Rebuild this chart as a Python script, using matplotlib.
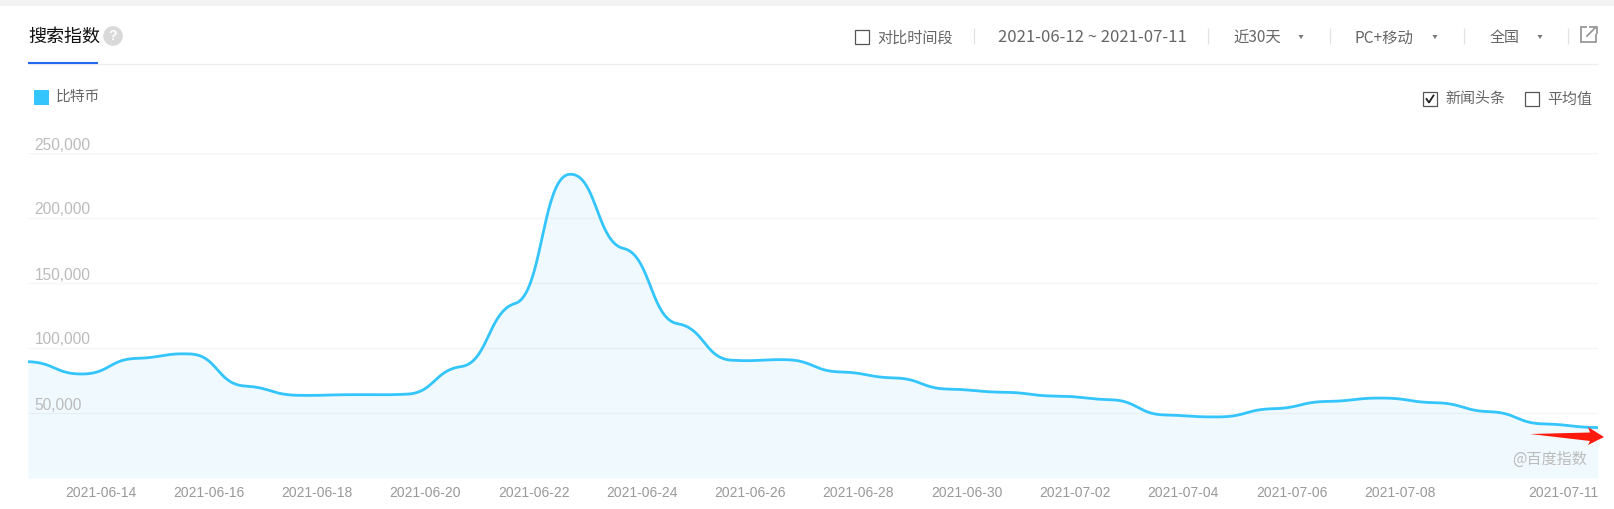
import numpy as np
import matplotlib
matplotlib.use("Agg")
import matplotlib.pyplot as plt
from matplotlib.patches import Rectangle, Circle, Polygon
from matplotlib.lines import Line2D

plt.rcParams['font.family'] = ['Noto Sans CJK SC', 'DejaVu Sans']

# --- Data ---
days = list(range(30))
search_index = [89500, 80000, 92000, 95400, 70800, 63600, 64100, 64500, 85700, 134300,
                233600, 176600, 118700, 90600, 91000, 81600, 77000, 68400, 66000, 63000,
                60200, 48500, 47000, 53300, 58900, 61500, 57900, 51000, 41600, 38800]
x_tick_days = [2, 4, 6, 8, 10, 12, 14, 16, 18, 20, 22, 24, 26, 29]
x_tick_labels = ['2021-06-14', '2021-06-16', '2021-06-18', '2021-06-20', '2021-06-22',
                 '2021-06-24', '2021-06-26', '2021-06-28', '2021-06-30', '2021-07-02',
                 '2021-07-04', '2021-07-06', '2021-07-08', '2021-07-11']
y_ticks = [50000, 100000, 150000, 200000, 250000]

W, H = 1615, 509
LINE = '#33c5fb'
SMOOTH_TANGENT = 0.08
SMOOTH_HANDLE = 0.5


def smooth_curve(xs, ys, n=40):
    """Bezier through the daily points, with short y handles like the Baidu chart."""
    xs = np.asarray(xs, float)
    ys = np.asarray(ys, float)
    slope = np.gradient(ys, xs) * SMOOTH_TANGENT / SMOOTH_HANDLE
    t = np.linspace(0, 1, n)[:, None]
    out_x, out_y = [], []
    for i in range(len(xs) - 1):
        dx = xs[i + 1] - xs[i]
        h = SMOOTH_HANDLE * dx
        px = [xs[i], xs[i] + h, xs[i + 1] - h, xs[i + 1]]
        py = [ys[i], ys[i] + slope[i] * h, ys[i + 1] - slope[i + 1] * h, ys[i + 1]]
        b = [(1 - t) ** 3, 3 * t * (1 - t) ** 2, 3 * t ** 2 * (1 - t), t ** 3]
        out_x.append(sum(c * p for c, p in zip(b, px)).ravel())
        out_y.append(sum(c * p for c, p in zip(b, py)).ravel())
    return np.concatenate(out_x), np.concatenate(out_y)


def fx(px):
    return px / W


def fy(py):
    return 1 - py / H


def label(px, py, s, size=11.1, color='#666666', ha='left', **kw):
    fig.text(fx(px), fy(py + 1.5), s, fontsize=size, color=color, ha=ha, va='center', **kw)


def hline(x0, x1, y, color, lw):
    fig.add_artist(Line2D([fx(x0), fx(x1)], [fy(y), fy(y)], color=color, lw=lw, solid_capstyle='butt'))


def vline(x, y0, y1, color='#e2e2e2', lw=0.9):
    fig.add_artist(Line2D([fx(x), fx(x)], [fy(y0), fy(y1)], color=color, lw=lw, solid_capstyle='butt'))


def rect(x, y, w, h, **kw):
    fig.add_artist(Rectangle((fx(x), fy(y + h)), w / W, h / H, transform=fig.transFigure, **kw))


def poly(points, **kw):
    fig.add_artist(Polygon([(fx(a), fy(b)) for a, b in points], transform=fig.transFigure, **kw))


def checkbox(x, y, size=14, checked=False):
    rect(x, y, size, size, facecolor='white', edgecolor='#555555', lw=0.9)
    if checked:
        fig.add_artist(Line2D([fx(x + 3.5), fx(x + 6), fx(x + 10.5)],
                              [fy(y + 7), fy(y + 10.5), fy(y + 3.5)], color='#222222', lw=1.3))


def caret(x, y):
    poly([(x - 2.5, y - 2), (x + 2.5, y - 2), (x, y + 2)], facecolor='#777777', edgecolor='none')


fig = plt.figure(figsize=(W / 100, H / 100), dpi=100, facecolor='white')

# plot area in picture pixels: x 28-1598, y 153-478
ax = fig.add_axes([fx(28), fy(478), 1570 / W, 325 / H])
ax.set_xlim(0, 29)
ax.set_ylim(0, 250000)
for side in ax.spines.values():
    side.set_visible(False)
ax.set_yticks(y_ticks)
ax.set_yticklabels([])
ax.tick_params(axis='y', length=0)
ax.grid(axis='y', color='black', alpha=0.04, lw=1.0, zorder=2)
ax.set_axisbelow(False)

cx, cy = smooth_curve(days, search_index)
ax.fill_between(cx, 0, cy, color='#f0fafe', lw=0, zorder=1)
ax.plot(cx, cy, color=LINE, lw=2.0, clip_on=False, solid_capstyle='butt', zorder=3)

ax.set_xticks(x_tick_days)
ax.set_xticklabels(x_tick_labels, ha='right', family='Liberation Sans', fontsize=10, color='#999999')
ax.tick_params(axis='x', length=0, pad=6)

for v in y_ticks:
    ax.annotate(f'{v:,}', (0, v), xytext=(6.5, 8), textcoords=('offset pixels'),
                family='Liberation Sans', fontsize=11.2, color='#bbbbbb', va='center', ha='left')

# --- page chrome ---
rect(0, 0, W, 6, facecolor='#f3f3f3', edgecolor='none')
label(28, 35.5, '搜索指数', size=13, color='#111111')
ax_help = fig.add_axes([fx(103), fy(46), 20 / W, 20 / H])
ax_help.set_xlim(-1, 1)
ax_help.set_ylim(-1, 1)
ax_help.axis('off')
ax_help.add_patch(Circle((0, 0), 0.98, color='#d9d9d9', lw=0))
ax_help.text(0, -0.02, '?', color='white', fontsize=10, fontweight='bold', ha='center', va='center',
             family='Liberation Sans')
hline(28, 1598, 64, '#eeeeee', 0.9)
hline(28, 98, 63, '#2468f2', 1.5)

checkbox(855, 30)
label(877, 36.5, '对比时间段', size=10.9)
vline(974, 28, 44)
label(1092, 36.5, '2021-06-12 ~ 2021-07-11', ha='center', size=12)
vline(1208, 28, 44)
label(1233, 36.5, '近30天')
caret(1301, 37)
vline(1330, 28, 44)
label(1355, 36.5, 'PC+移动')
caret(1435, 37)
vline(1464, 28, 44)
label(1490, 36.5, '全国', size=10.8)
caret(1540, 37)
vline(1568, 28, 44)

# export icon
rect(1581, 27, 15, 15, facecolor='none', edgecolor='#999999', lw=1.3)
rect(1587, 24, 12, 10, facecolor='white', edgecolor='none')
fig.add_artist(Line2D([fx(1587), fx(1596)], [fy(36), fy(27)], color='#999999', lw=1.3))
fig.add_artist(Line2D([fx(1590), fx(1597), fx(1597)], [fy(27), fy(27), fy(33)], color='#999999', lw=1.3))

# legend and switches
rect(34, 90, 15, 15, facecolor=LINE, edgecolor='none')
label(56, 95, '比特币', size=10.6)
checkbox(1423, 92, checked=True)
label(1445, 98, '新闻头条', size=10.8)
checkbox(1525, 92)
label(1547, 98, '平均值', size=10.8)

label(1587, 458, '@百度指数', size=10.9, color='#bbbbbb', ha='right')

# red arrow added on the screenshot
poly([(1530, 434), (1590, 432.5), (1588, 427), (1604, 437), (1588, 445), (1590, 441)],
     facecolor='#ff1a0d', edgecolor='none', zorder=10)

fig.savefig('out.png', dpi=100)
